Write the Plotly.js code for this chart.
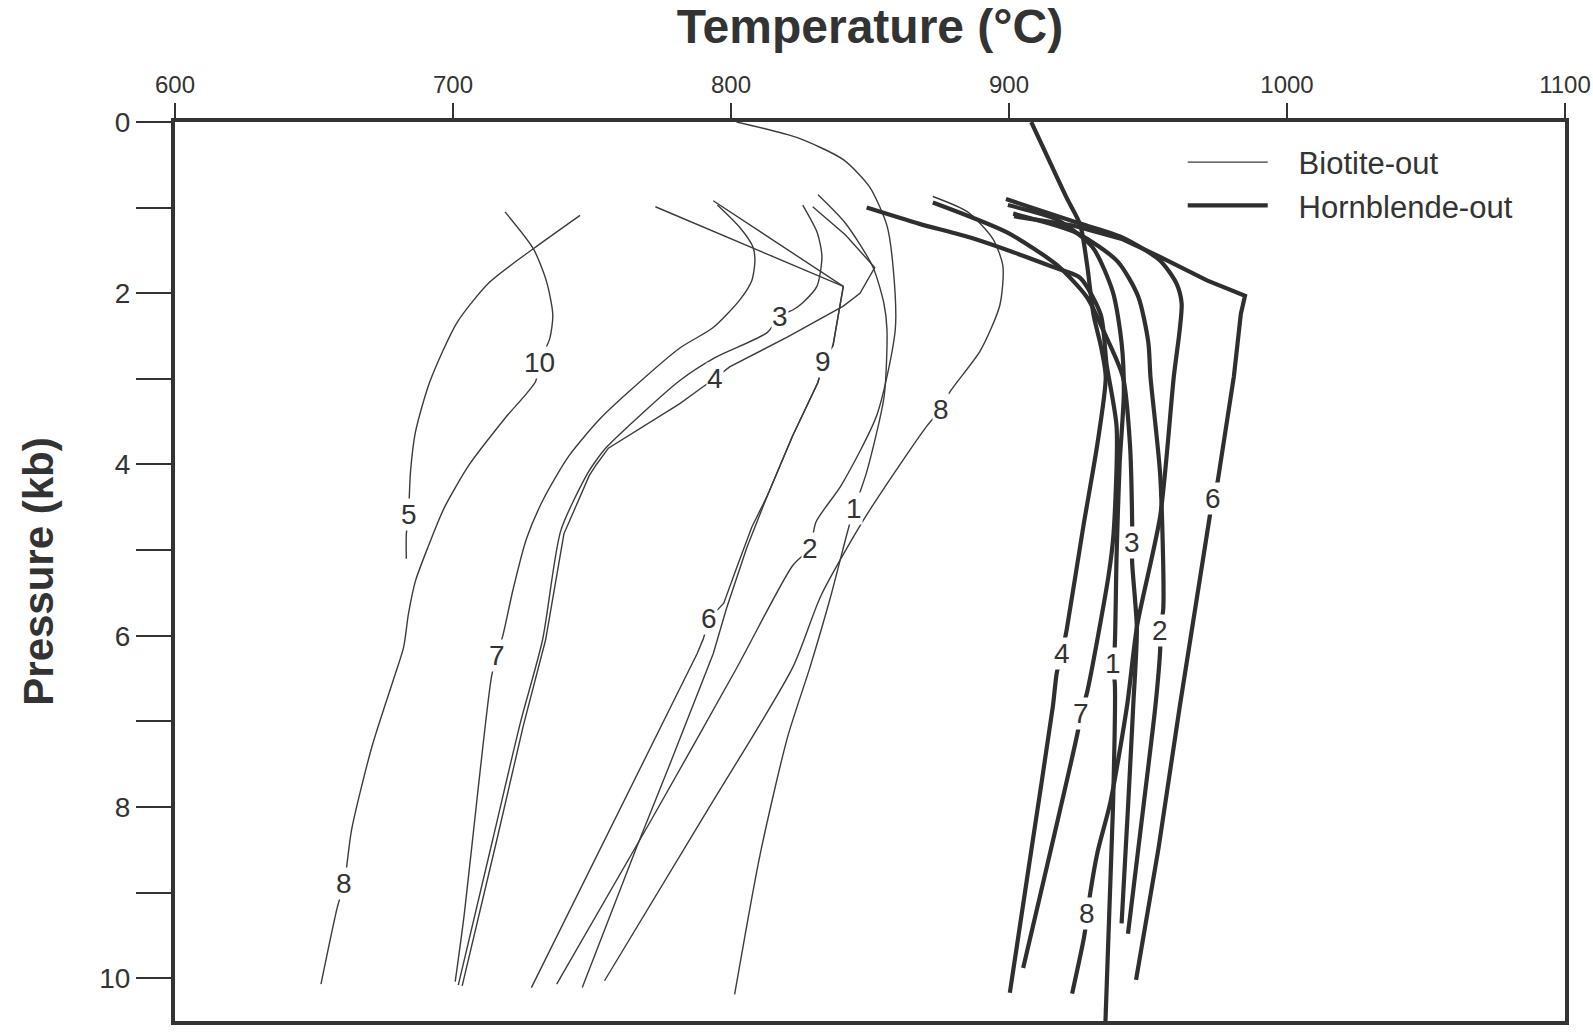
<!DOCTYPE html>
<html>
<head>
<meta charset="utf-8">
<script src="https://cdn.plot.ly/plotly-3.0.1.min.js"></script>
<style>
  html, body { margin: 0; padding: 0; background: #ffffff; }
  #chart { width: 1593px; height: 1033px; }
</style>
</head>
<body>
<div id="chart"></div>
<script>
// ---------- Data: Temperature (°C) / Pressure (kb) ----------
// Biotite-out curves (thin lines)
const bio1T = [831.3, 841.1, 851.0, 855.0, 856.1, 855.1, 848.8, 844.4, 842.2, 835.7, 828.4, 820.3, 810.5, 801.3];
const bio1P = [0.85, 1.18, 1.69, 2.12, 2.42, 3.20, 4.09, 4.51, 4.75, 5.56, 6.37, 7.19, 8.55, 10.19];
const bio2T = [802.0, 823.6, 840.4, 849.9, 856.1, 858.3, 859.1, 852.5, 839.7, 830.6, 828.3, 822.2, 802.0, 771.0, 737.3];
const bio2P = [0.0, 0.18, 0.44, 0.76, 1.21, 1.69, 2.42, 3.42, 4.24, 4.67, 4.98, 5.18, 6.38, 8.17, 10.07];
const bio3T = [825.8, 831.0, 832.7, 830.9, 825.8, 822.5, 817.5, 813.0, 794.4, 781.6, 755.2, 750.9, 748.3, 738.8, 732.2, 724.2, 714.3, 701.9];
const bio3P = [0.97, 1.29, 1.57, 1.92, 2.11, 2.19, 2.27, 2.46, 2.75, 3.02, 3.80, 3.98, 4.11, 4.77, 6.05, 7.02, 8.38, 10.08];
const bio4T = [829.4, 841.2, 851.7, 846.4, 840.4, 820.4, 799.5, 794.4, 789.2, 781.6, 755.9, 751.6, 749.0, 739.9, 733.3, 725.3, 715.8, 703.3];
const bio4P = [0.99, 1.32, 1.70, 2.00, 2.15, 2.51, 2.86, 2.99, 3.11, 3.29, 3.81, 4.00, 4.13, 4.81, 6.05, 7.05, 8.38, 10.09];
const bio5T = [745.7, 728.9, 713.2, 701.5, 691.6, 686.5, 684.7, 684.0, 683.2, 683.2];
const bio5P = [1.09, 1.48, 1.87, 2.34, 3.04, 3.62, 4.09, 4.58, 4.82, 5.10];
const bio6T = [793.6, 840.4, 836.7, 833.1, 831.3, 822.1, 813.0, 807.5, 802.0, 797.4, 792.2, 790.0, 787.8, 756.1, 728.2];
const bio6P = [0.92, 1.92, 2.61, 2.80, 3.04, 3.67, 4.37, 4.73, 5.21, 5.62, 5.80, 6.04, 6.21, 8.29, 10.11];
const bio7T = [795.1, 803.1, 807.9, 808.6, 807.5, 803.1, 793.6, 781.6, 763.6, 752.8, 741.7, 732.6, 726.4, 721.6, 718.0, 715.8, 713.9, 708.9, 704.1, 700.8];
const bio7P = [0.97, 1.23, 1.46, 1.62, 1.85, 2.08, 2.40, 2.64, 3.14, 3.47, 3.90, 4.40, 4.87, 5.46, 5.99, 6.23, 6.47, 7.83, 9.24, 10.04];
const bio8T = [872.6, 885.1, 894.1, 897.8, 896.7, 889.7, 878.8, 875.5, 870.7, 848.8, 832.4, 822.2, 791.5, 754.5];
const bio8P = [0.87, 1.05, 1.36, 1.68, 2.14, 2.67, 3.15, 3.36, 3.54, 4.59, 5.53, 6.37, 8.04, 10.03];
const bio9T = [772.8, 840.4, 836.7, 833.1, 831.3, 822.1, 813.0, 805.7, 798.4, 793.6, 777.9, 765.8, 746.5];
const bio9P = [0.99, 1.92, 2.61, 2.80, 3.04, 3.67, 4.37, 4.97, 5.68, 6.21, 7.51, 8.49, 10.11];
const bio10T = [718.7, 728.9, 733.7, 735.9, 734.8, 731.1, 729.7, 718.7, 705.9, 696.8, 691.3, 686.5, 684.0, 682.2, 678.5, 670.8, 663.5, 660.9, 658.4, 652.5];
const bio10P = [1.05, 1.48, 1.87, 2.25, 2.53, 2.81, 3.03, 3.46, 4.00, 4.51, 4.94, 5.36, 5.74, 6.14, 6.52, 7.30, 8.27, 8.89, 9.17, 10.07];

// Hornblende-out curves (thick lines)
const hbl1T = [899.6, 917.2, 930.0, 937.4, 940.5, 941.3, 939.8, 938.7, 938.0, 937.4, 938.1, 937.4, 934.7];
const hbl1P = [0.97, 1.14, 1.46, 1.99, 2.58, 3.17, 3.99, 5.06, 6.15, 6.32, 6.58, 8.01, 10.5];
const hbl2T = [901.5, 924.6, 939.1, 946.5, 950.1, 950.9, 954.4, 955.5, 954.4, 954.4, 952.7, 948.3, 942.8];
const hbl2P = [1.07, 1.30, 1.63, 2.04, 2.57, 2.98, 4.13, 5.68, 5.94, 6.15, 6.81, 8.01, 9.48];
const hbl3T = [872.6, 899.3, 917.2, 928.1, 934.0, 941.0, 943.5, 944.3, 944.3, 944.3, 946.0, 944.7, 942.8, 940.5];
const hbl3P = [0.94, 1.29, 1.67, 2.05, 2.44, 2.98, 3.76, 4.68, 4.91, 5.15, 5.92, 6.81, 8.01, 9.36];
const hbl4T = [908.0, 914.6, 920.8, 925.6, 928.1, 930.4, 933.2, 934.8, 931.8, 926.7, 920.8, 919.0, 917.2, 915.8, 908.1, 900.3];
const hbl4P = [0.0, 0.46, 0.89, 1.20, 1.67, 2.25, 2.64, 2.98, 3.76, 4.73, 5.92, 6.21, 6.43, 6.82, 8.49, 10.17];
const hbl6T = [901.8, 923.0, 940.9, 953.4, 971.2, 984.9, 983.4, 980.9, 975.0, 973.2, 972.1, 961.5, 953.8, 945.7];
const hbl6P = [1.10, 1.21, 1.37, 1.56, 1.85, 2.03, 2.24, 2.97, 4.21, 4.40, 4.63, 6.81, 8.48, 10.02];
const hbl7T = [848.8, 867.8, 887.2, 917.2, 925.6, 933.0, 935.1, 938.7, 937.6, 935.8, 928.1, 925.9, 924.5, 905.1];
const hbl7P = [1.00, 1.19, 1.36, 1.71, 1.82, 2.25, 2.83, 3.56, 4.81, 5.30, 6.66, 6.91, 7.16, 9.88];
const hbl8T = [898.9, 923.0, 940.9, 954.4, 960.3, 962.1, 961.4, 959.3, 954.4, 946.1, 942.5, 936.5, 931.9, 929.3, 928.2, 927.0, 922.7];
const hbl8P = [0.90, 1.16, 1.35, 1.62, 1.89, 2.12, 2.43, 2.97, 4.60, 5.88, 6.81, 7.94, 8.52, 8.99, 9.25, 9.52, 10.18];

// Curve labels
const bioLabelText = ['10', '3', '4', '9', '8', '5', '1', '2', '6', '7', '8'];
const bioLabelT = [731.1, 817.5, 794.4, 833.1, 875.5, 684.0, 844.4, 828.3, 792.2, 715.8, 660.9];
const bioLabelP = [2.81, 2.27, 2.99, 2.80, 3.36, 4.58, 4.51, 4.98, 5.80, 6.23, 8.89];
const hblLabelText = ['6', '3', '2', '4', '1', '7', '8'];
const hblLabelT = [973.2, 944.3, 954.4, 919.0, 937.4, 925.9, 928.2];
const hblLabelP = [4.40, 4.91, 5.94, 6.21, 6.32, 6.91, 9.25];

// Axis ticks
const xTicks = [600, 700, 800, 900, 1000, 1100];
const yTickVals = [0, 1, 2, 3, 4, 5, 6, 7, 8, 9, 10];
const yTickText = ['0', '', '2', '', '4', '', '6', '', '8', '', '10'];

// ---------- Build traces ----------
const FONT = 'Liberation Sans, Arial, Helvetica, sans-serif';
const bioCurves = [[bio1T, bio1P], [bio2T, bio2P], [bio3T, bio3P], [bio4T, bio4P], [bio5T, bio5P],
                   [bio6T, bio6P], [bio7T, bio7P], [bio8T, bio8P], [bio9T, bio9P], [bio10T, bio10P]];
const bioSharp = [false, false, false, true, false, true, false, false, true, false];
const hblCurves = [[hbl1T, hbl1P], [hbl2T, hbl2P], [hbl3T, hbl3P], [hbl4T, hbl4P],
                   [hbl6T, hbl6P], [hbl7T, hbl7P], [hbl8T, hbl8P]];
const hblSharp = [false, false, false, false, true, false, false];

const NB = '\u00a0\u00a0\u00a0';
const traces = [];
bioCurves.forEach((c, i) => {
  traces.push({
    type: 'scatter', mode: 'lines', x: c[0], y: c[1],
    name: NB + 'Biotite-out', legendgroup: 'bio', showlegend: i === 0,
    line: { color: '#3c3c3c', width: 1.4, shape: bioSharp[i] ? 'linear' : 'spline', smoothing: 0.7 },
    hoverinfo: 'skip'
  });
});
hblCurves.forEach((c, i) => {
  traces.push({
    type: 'scatter', mode: 'lines', x: c[0], y: c[1],
    name: NB + 'Hornblende-out', legendgroup: 'hbl', showlegend: i === 0,
    line: { color: '#2f2f2f', width: 4.2, shape: hblSharp[i] ? 'linear' : 'spline', smoothing: 0.7 },
    hoverinfo: 'skip'
  });
});

const annotations = [];
bioLabelText.forEach((t, i) => annotations.push({
  x: bioLabelT[i], y: bioLabelP[i], xref: 'x', yref: 'y', text: t, showarrow: false,
  font: { family: FONT, size: 28, color: '#333333' }, bgcolor: '#ffffff', borderpad: 0
}));
hblLabelText.forEach((t, i) => annotations.push({
  x: hblLabelT[i], y: hblLabelP[i], xref: 'x', yref: 'y', text: t, showarrow: false,
  font: { family: FONT, size: 28, color: '#333333' }, bgcolor: '#ffffff', borderpad: 0
}));

const layout = {
  width: 1593, height: 1033,
  margin: { l: 175, r: 28, t: 122, b: 12 },
  paper_bgcolor: '#ffffff', plot_bgcolor: '#ffffff',
  font: { family: FONT, color: '#333333' },
  showlegend: true,
  legend: {
    x: 0.725, y: 0.985, xanchor: 'left', yanchor: 'top',
    font: { family: FONT, size: 31, color: '#333333' },
    bgcolor: 'rgba(0,0,0,0)', itemwidth: 80, tracegroupgap: 0
  },
  xaxis: {
    side: 'top', range: [600, 1100], tickvals: xTicks,
    ticks: 'outside', ticklen: 15, tickwidth: 2, tickcolor: '#333333',
    tickfont: { family: FONT, size: 24, color: '#333333' },
    showline: true, linewidth: 4, linecolor: '#333333', mirror: true,
    showgrid: false, zeroline: false,
    title: { text: 'Temperature (°C)', font: { family: FONT, size: 48, color: '#333333', weight: 'bold' }, standoff: 16 }
  },
  yaxis: {
    range: [10.5, 0], tickvals: yTickVals, ticktext: yTickText,
    ticks: 'outside', ticklen: 35, tickwidth: 2, tickcolor: '#333333',
    tickfont: { family: FONT, size: 28, color: '#333333' },
    showline: true, linewidth: 4, linecolor: '#333333', mirror: true,
    showgrid: false, zeroline: false,
    title: { text: 'Pressure (kb)', font: { family: FONT, size: 42, color: '#333333', weight: 'bold' }, standoff: 34 }
  },
  annotations: annotations
};

Plotly.newPlot('chart', traces, layout, { staticPlot: true, displayModeBar: false });
</script>
</body>
</html>
